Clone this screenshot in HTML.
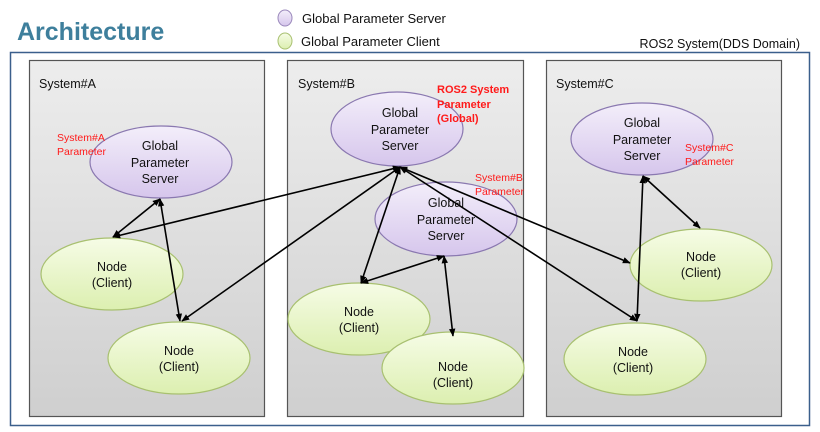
<!DOCTYPE html>
<html><head><meta charset="utf-8"><style>body{margin:0;background:#fff}svg{display:block}text{font-family:"Liberation Sans",sans-serif}</style></head><body>
<svg width="820" height="432" viewBox="0 0 820 432" xmlns="http://www.w3.org/2000/svg">
<defs>
<linearGradient id="box" x1="0" y1="0" x2="0" y2="1"><stop offset="0" stop-color="#ededed"/><stop offset="1" stop-color="#cfcfcf"/></linearGradient>
<linearGradient id="pu" x1="0" y1="0" x2="0" y2="1"><stop offset="0" stop-color="#f3eefa"/><stop offset="1" stop-color="#d6c6ec"/></linearGradient>
<linearGradient id="gr" x1="0" y1="0" x2="0" y2="1"><stop offset="0" stop-color="#f6fce6"/><stop offset="1" stop-color="#dcefb0"/></linearGradient>
<marker id="ah" viewBox="0 0 10 10" refX="9" refY="5" markerWidth="5" markerHeight="5" orient="auto-start-reverse"><path d="M0,1 L10,5 L0,9 z" fill="#000"/></marker>
</defs>
<text x="17" y="40" font-size="25" font-weight="bold" fill="#3e7f9c">Architecture</text>
<ellipse cx="285" cy="18" rx="7" ry="8" fill="url(#pu)" stroke="#9a88bb"/>
<ellipse cx="285" cy="41" rx="7" ry="8" fill="url(#gr)" stroke="#a8c070"/>
<text x="302" y="23" font-size="13" fill="#111">Global Parameter Server</text>
<text x="301" y="46" font-size="13" fill="#111">Global Parameter Client</text>
<text x="800" y="48" font-size="12.5" fill="#111" text-anchor="end">ROS2 System(DDS Domain)</text>
<rect x="10.5" y="52.5" width="799" height="373" fill="#fff" stroke="#3b5f8c" stroke-width="1.5"/>
<g stroke="#555" stroke-width="1.2" fill="url(#box)">
<rect x="29.5" y="60.5" width="235" height="356"/>
<rect x="287.5" y="60.5" width="236" height="356"/>
<rect x="546.5" y="60.5" width="235" height="356"/>
</g>
<g font-size="12.5" fill="#111"><text x="39" y="88">System#A</text><text x="298" y="88">System#B</text><text x="556" y="88">System#C</text></g>
<g stroke="#8a78b0" stroke-width="1.2" fill="url(#pu)">
<ellipse cx="161" cy="162" rx="71" ry="36"/>
<ellipse cx="397" cy="129" rx="66" ry="37"/>
<ellipse cx="446" cy="219" rx="71" ry="37"/>
<ellipse cx="642" cy="139" rx="71" ry="36"/>
</g>
<g stroke="#a8c070" stroke-width="1.2" fill="url(#gr)">
<ellipse cx="112" cy="274" rx="71" ry="36"/>
<ellipse cx="179" cy="358" rx="71" ry="36"/>
<ellipse cx="359" cy="319" rx="71" ry="36"/>
<ellipse cx="453" cy="368" rx="71" ry="36"/>
<ellipse cx="701" cy="265" rx="71" ry="36"/>
<ellipse cx="635" cy="359" rx="71" ry="36"/>
</g>
<g font-size="12.5" fill="#111" text-anchor="middle">
<text x="160" y="150">Global</text><text x="160" y="167">Parameter</text><text x="160" y="183">Server</text>
<text x="400" y="117">Global</text><text x="400" y="134">Parameter</text><text x="400" y="150">Server</text>
<text x="446" y="207">Global</text><text x="446" y="224">Parameter</text><text x="446" y="240">Server</text>
<text x="642" y="127">Global</text><text x="642" y="144">Parameter</text><text x="642" y="160">Server</text>
<text x="112" y="271">Node</text><text x="112" y="287">(Client)</text>
<text x="179" y="355">Node</text><text x="179" y="371">(Client)</text>
<text x="359" y="316">Node</text><text x="359" y="332">(Client)</text>
<text x="453" y="371">Node</text><text x="453" y="387">(Client)</text>
<text x="701" y="261">Node</text><text x="701" y="277">(Client)</text>
<text x="633" y="356">Node</text><text x="633" y="372">(Client)</text>
</g>
<g stroke="#000" stroke-width="1.6" marker-start="url(#ah)" marker-end="url(#ah)" fill="none">
<line x1="160" y1="199" x2="113" y2="237"/>
<line x1="160" y1="199" x2="180" y2="321"/>
<line x1="400" y1="167" x2="113" y2="237"/>
<line x1="400" y1="167" x2="182" y2="321"/>
<line x1="400" y1="167" x2="361" y2="283"/>
<line x1="400" y1="167" x2="630" y2="263"/>
<line x1="400" y1="167" x2="637" y2="321"/>
<line x1="444" y1="256" x2="361" y2="283"/>
<line x1="444" y1="256" x2="453" y2="336"/>
<line x1="643" y1="176" x2="637" y2="321"/>
<line x1="643" y1="176" x2="700" y2="228"/>
</g>
<g font-size="10.5" fill="#ff1a1a">
<text x="57" y="141">System#A</text><text x="57" y="155">Parameter</text>
<text x="475" y="181">System#B</text><text x="475" y="195">Parameter</text>
<text x="685" y="151">System#C</text><text x="685" y="165">Parameter</text>
</g>
<g font-size="11" font-weight="bold" fill="#ff1a1a">
<text x="437" y="93">ROS2 System</text><text x="437" y="108">Parameter</text><text x="437" y="122">(Global)</text>
</g>
</svg>
</body></html>
